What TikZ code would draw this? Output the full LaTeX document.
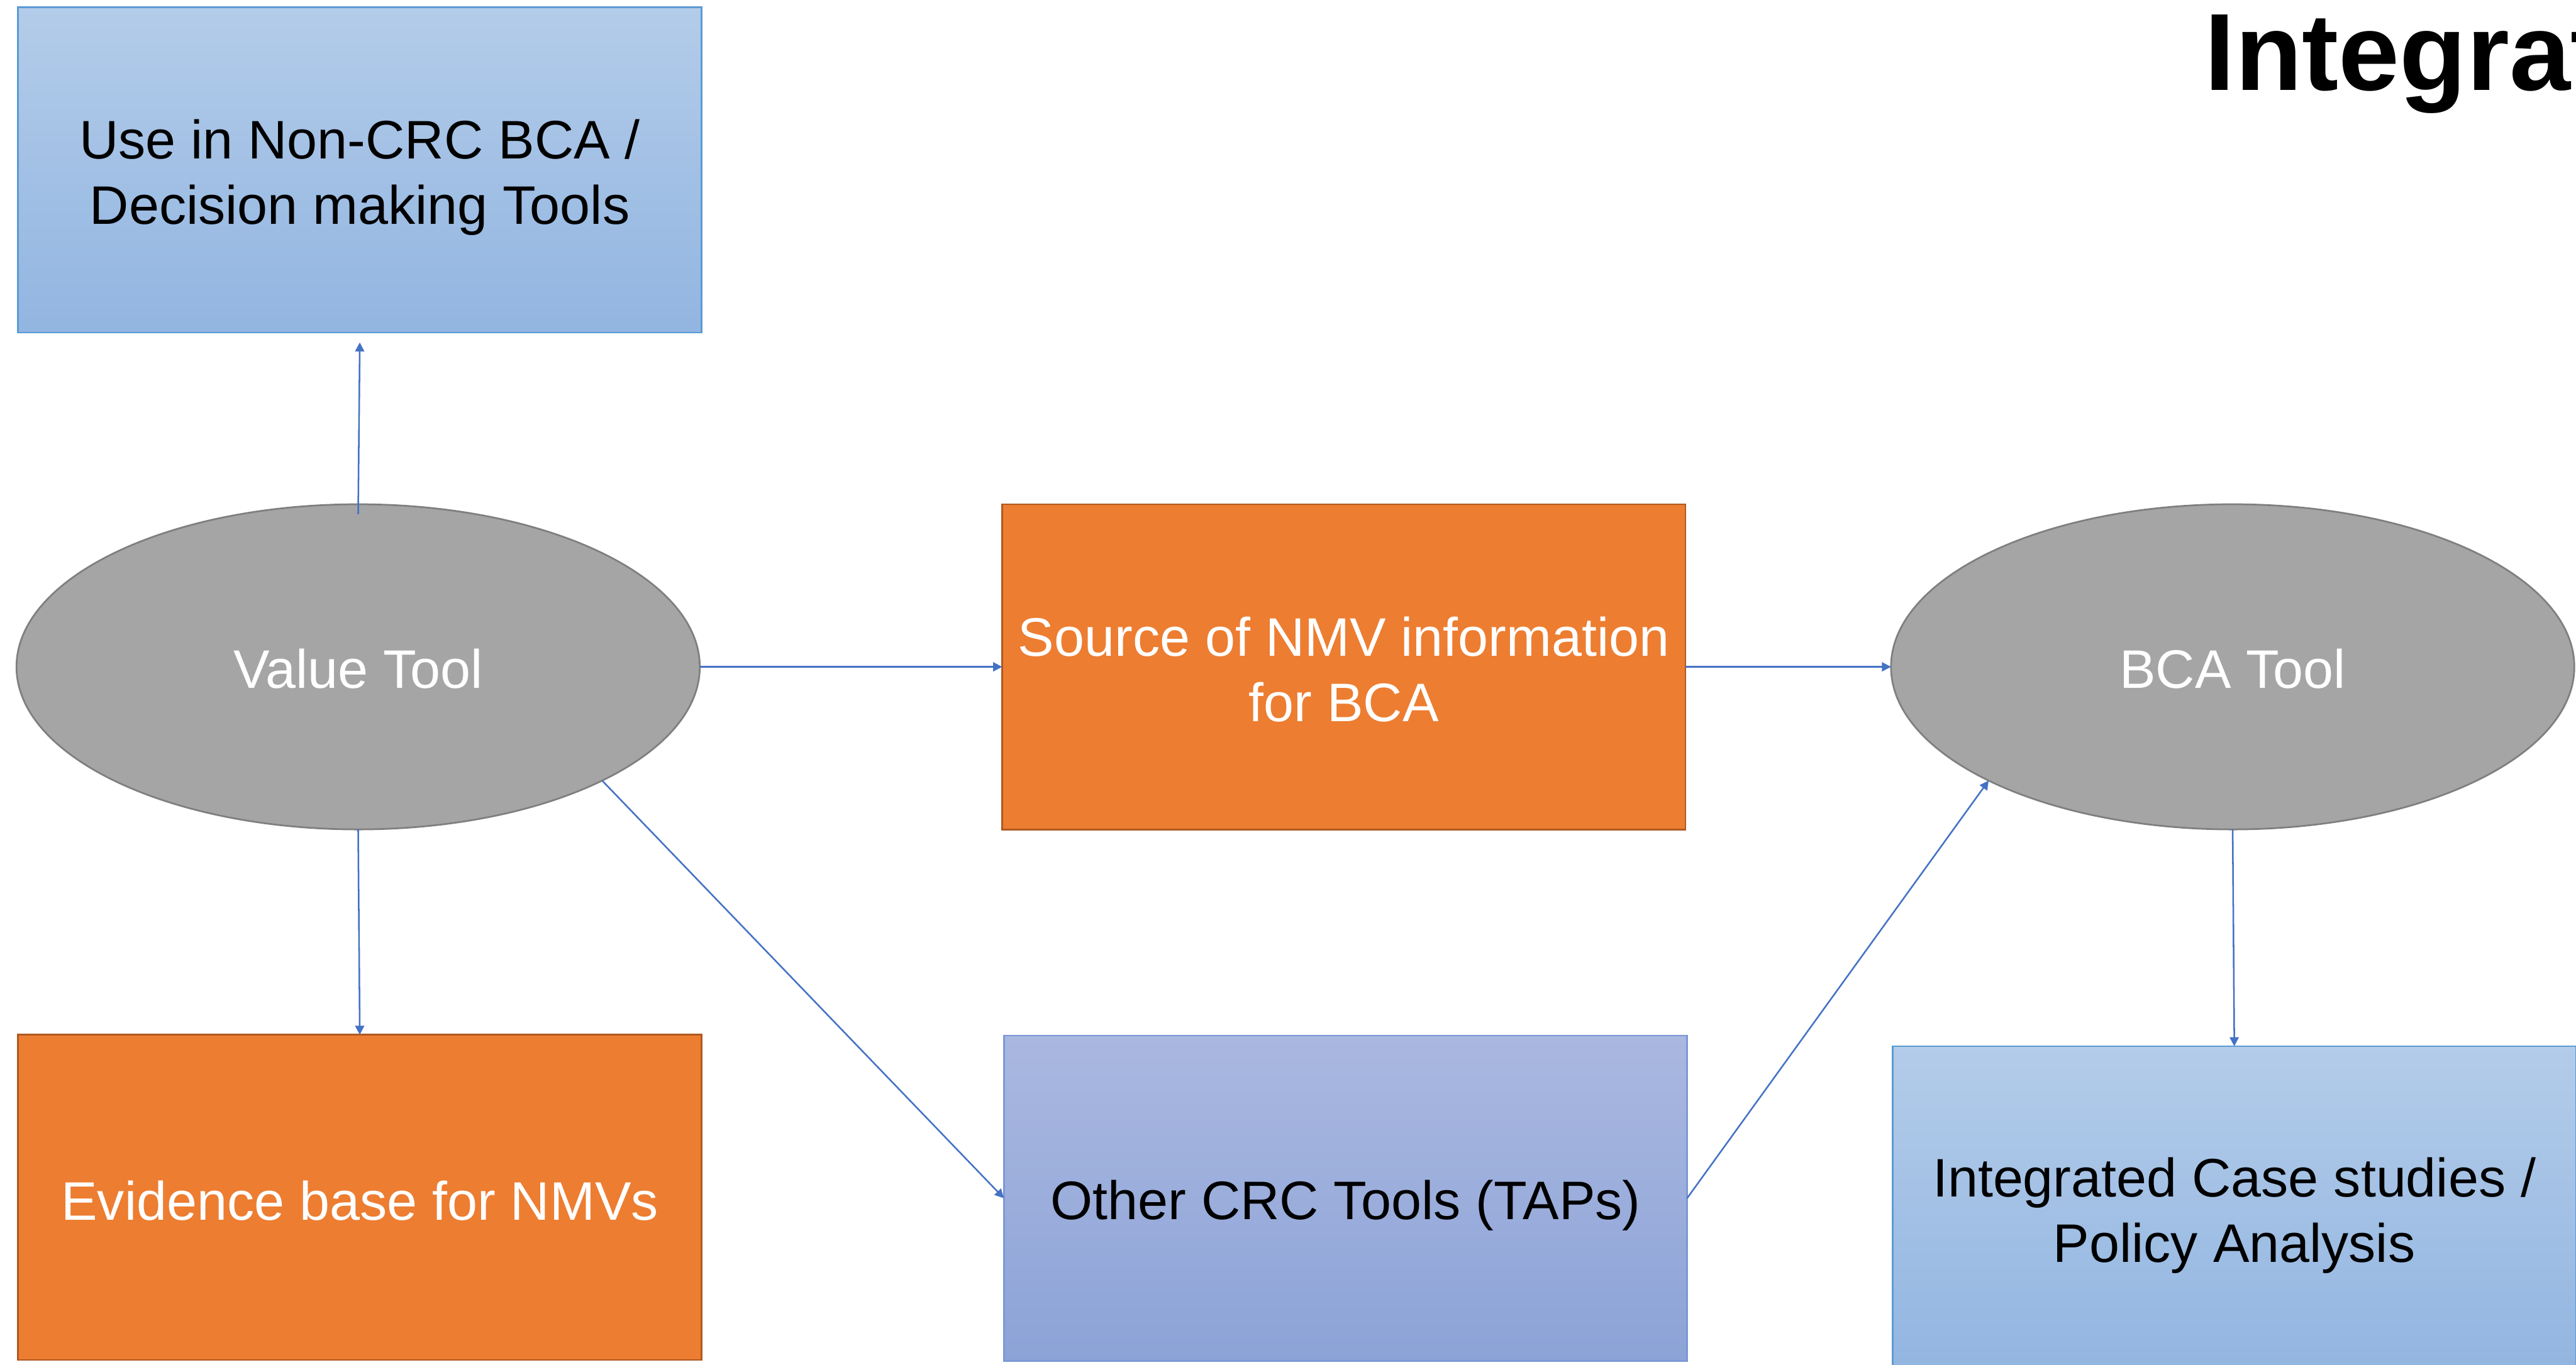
\documentclass[tikz,border=0pt]{standalone}
\usepackage{fontspec}
\setmainfont{Liberation Sans}
\usetikzlibrary{shapes.geometric,arrows.meta}
\definecolor{orangeF}{HTML}{ED7D31}
\definecolor{orangeD}{HTML}{AE5A21}
\definecolor{grayF}{HTML}{A5A5A5}
\definecolor{grayD}{HTML}{7F7F7F}
\definecolor{lbTop}{HTML}{B3CCE9}
\definecolor{lbBot}{HTML}{92B5E1}
\definecolor{lbD}{HTML}{5B9BD5}
\definecolor{puTop}{HTML}{AAB8E0}
\definecolor{puBot}{HTML}{8CA3D7}
\definecolor{puD}{HTML}{7C98D6}
\definecolor{arrowC}{HTML}{4472C4}
\begin{document}
\begin{tikzpicture}[x=0.02cm,y=-0.02cm,
 every node/.style={font=\fontsize{18.8}{22.8}\selectfont, align=center, inner sep=0pt, outer sep=0pt},
 boxbase/.style={rectangle, minimum width=8.32cm, minimum height=3.96cm, line width=0.6pt},
 orangebox/.style={boxbase, fill=orangeF, draw=orangeD},
 bluebox/.style={boxbase, top color=lbTop, bottom color=lbBot, draw=lbD},
 purplebox/.style={boxbase, top color=puTop, bottom color=puBot, draw=puD},
 toolell/.style={ellipse, minimum width=8.32cm, minimum height=3.96cm, fill=grayF, draw=grayD, line width=0.6pt},
 wtext/.style={text=white},
 btext/.style={text=black},
 arr/.style={-{Triangle[length=0.11cm,width=0.11cm]}, draw=arrowC, line width=0.55pt}]
\useasboundingbox (0,0) rectangle (1568,831);
% shapes
\node[bluebox] (ul) at (219,103.5) {};
\node[toolell] (vt) at (218,406) {};
\node[orangebox] (src) at (818,406) {};
\node[toolell] (bca) at (1359,406) {};
\node[orangebox] (ev) at (219,729) {};
\node[purplebox] (oc) at (819,729.5) {};
\node[bluebox] (ic) at (1360,736) {};
% texts
\node[btext, yshift=-0.09cm] (ul-t) at (ul) {Use in Non-CRC BCA /\\Decision making Tools};
\node[wtext, yshift=-0.02cm] (vt-t) at (vt) {Value Tool};
\node[wtext, yshift=-0.03cm] (src-t) at (src) {Source of NMV information\\for BCA};
\node[wtext, yshift=-0.02cm] (bca-t) at (bca) {BCA Tool};
\node[wtext, yshift=-0.04cm] (ev-t) at (ev) {Evidence base for NMVs};
\node[btext, yshift=-0.09cm] (oc-t) at (oc) {Other CRC Tools (TAPs)};
\node[btext, yshift=-0.08cm] (ic-t) at (ic) {Integrated Case studies /\\Policy Analysis};
\node[anchor=base west, font=\fontsize{38}{44}\selectfont\bfseries] (title) at (1342,55) {Integrat};
% connectors
\draw[arr] ([yshift=-0.12cm]vt.north) -- ([yshift=-0.12cm]ul.south);
\draw[arr] (vt.east) -- (src.west);
\draw[arr] (vt.south) -- (ev.north);
\draw[arr] (vt.-25.8) -- (oc.west);
\draw[arr] (src.east) -- (bca.west);
\draw[arr] (oc.east) -- (bca.205.8);
\draw[arr] (bca.south) -- (ic.north);
\end{tikzpicture}
\end{document}
